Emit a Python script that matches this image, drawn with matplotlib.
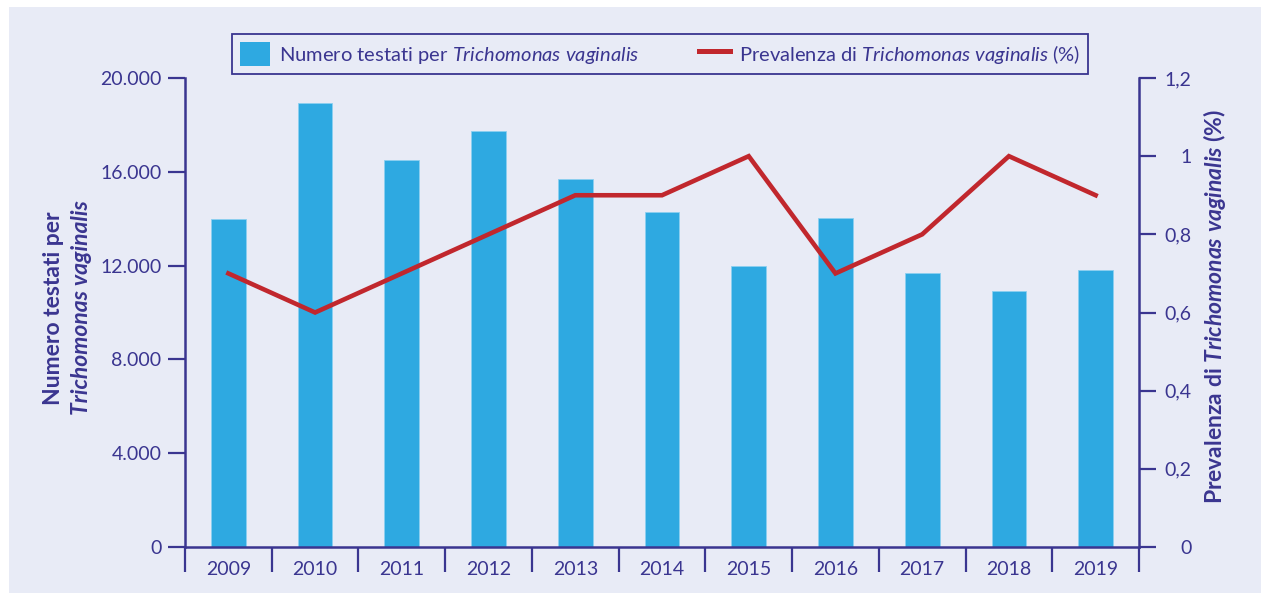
import matplotlib
matplotlib.use("Agg")
import matplotlib.pyplot as plt
from matplotlib.patches import Rectangle, Patch
from matplotlib.lines import Line2D

years = ["2009", "2010", "2011", "2012", "2013", "2014", "2015", "2016", "2017", "2018", "2019"]
tested = [14000, 18950, 16500, 17750, 15700, 14300, 12000, 14050, 11700, 10900, 11800]
prevalence = [0.7, 0.6, 0.7, 0.8, 0.9, 0.9, 1.0, 0.7, 0.8, 1.0, 0.9]
left_ticks = [0, 4000, 8000, 12000, 16000, 20000]
left_ticklabels = ["0", "4.000", "8.000", "12.000", "16.000", "20.000"]
right_ticks = [0, 0.2, 0.4, 0.6, 0.8, 1.0, 1.2]
right_ticklabels = ["0", "0,2", "0,4", "0,6", "0,8", "1", "1,2"]

FONT = "Lato"
plt.rcParams["font.family"] = [FONT, "DejaVu Sans"]
plt.rcParams["mathtext.fontset"] = "custom"
plt.rcParams["mathtext.rm"] = FONT
plt.rcParams["mathtext.it"] = FONT + ":italic"
plt.rcParams["mathtext.bf"] = FONT + ":bold"
plt.rcParams["mathtext.sf"] = FONT + ":italic:bold"

TXT = "#3a3590"
BG = "#e8ebf6"
BAR = "#2ea9e1"
RED = "#c1272d"

W, H = 1261, 593
fig = plt.figure(figsize=(W / 100, H / 100), dpi=100, facecolor="white")
fig.patches.append(Rectangle((9 / W, 0), 1 - 9 / W, 1 - 7 / H, transform=fig.transFigure,
                             facecolor=BG, edgecolor="none", zorder=-10))

ax = fig.add_axes([185 / W, 1 - 547 / H, (1139 - 185) / W, (547 - 78) / H])
ax.set_facecolor("none")
x = list(range(len(years)))
ax.bar(x, tested, width=0.4, color=BAR, edgecolor="#8cd0f0", linewidth=0.6, zorder=2)
ax.set_xlim(-0.5, len(years) - 0.5)
ax.set_ylim(0, 20000)
ax.set_yticks(left_ticks)
ax.set_yticklabels(left_ticklabels)
ax.set_xticks(x)
ax.set_xticklabels(years)
ax.set_xticks([i - 0.5 for i in range(len(years) + 1)], minor=True)
ax.tick_params(axis="x", which="major", length=0, pad=10, labelsize=14, labelcolor=TXT)
ax.tick_params(axis="x", which="minor", length=18, width=1.6, color=TXT, direction="out")
ax.tick_params(axis="y", which="major", length=12, width=1.6, color=TXT, pad=5,
               labelsize=14, labelcolor=TXT)
for s in ["top", "right"]:
    ax.spines[s].set_visible(False)
for s in ["left", "bottom"]:
    ax.spines[s].set_color(TXT)
    ax.spines[s].set_linewidth(1.8)

ax2 = ax.twinx()
ax2.plot(x, prevalence, color=RED, linewidth=3.3, solid_joinstyle="miter", zorder=3)
ax2.set_ylim(0, 1.2)
ax2.set_yticks(right_ticks)
ax2.set_yticklabels(right_ticklabels)
ax2.tick_params(axis="y", length=12, width=1.6, color=TXT, pad=26, labelsize=14, labelcolor=TXT)
for lab in ax2.get_yticklabels():
    lab.set_horizontalalignment("right")
for s in ["top", "left", "bottom"]:
    ax2.spines[s].set_visible(False)
ax2.spines["right"].set_color(TXT)
ax2.spines["right"].set_linewidth(1.8)

# axis titles
fig.text(54 / W, 1 - 308 / H, "Numero testati per", rotation=90, ha="center", va="center",
         fontsize=16.5, fontweight="bold", color=TXT)
fig.text(82 / W, 1 - 308 / H, "Trichomonas vaginalis", rotation=90, ha="center", va="center",
         fontsize=16.5, fontweight="bold", fontstyle="italic", color=TXT)
fig.text(1215 / W, 1 - 306 / H, r"Prevalenza di $\mathsf{Trichomonas\ vaginalis}$ (%)",
         rotation=90, ha="center", va="center", fontsize=16.5, fontweight="bold", color=TXT)

handles = [Patch(facecolor=BAR, edgecolor="none"),
           Line2D([0], [0], color=RED, linewidth=3.6)]
labels = [r"Numero testati per $\mathit{Trichomonas\ vaginalis}$",
          r"Prevalenza di $\mathit{Trichomonas\ vaginalis}$ (%)"]
leg = fig.legend(handles, labels, ncol=2, loc="center",
                 bbox_to_anchor=(232 / W, 1 - 82 / H, (1088 - 232) / W, (82 - 26) / H),
                 mode="expand", fontsize=14.5, frameon=True, fancybox=False,
                 handlelength=1.5, handleheight=1.5, handletextpad=0.45,
                 borderaxespad=0, borderpad=0.4, columnspacing=2.0)
for t in leg.get_texts():
    t.set_color(TXT)
fr = leg.get_frame()
fr.set_facecolor(BG)
fr.set_edgecolor(TXT)
fr.set_linewidth(1.3)
fr.set_alpha(1)

fig.savefig("out.png", dpi=100, facecolor="white")
